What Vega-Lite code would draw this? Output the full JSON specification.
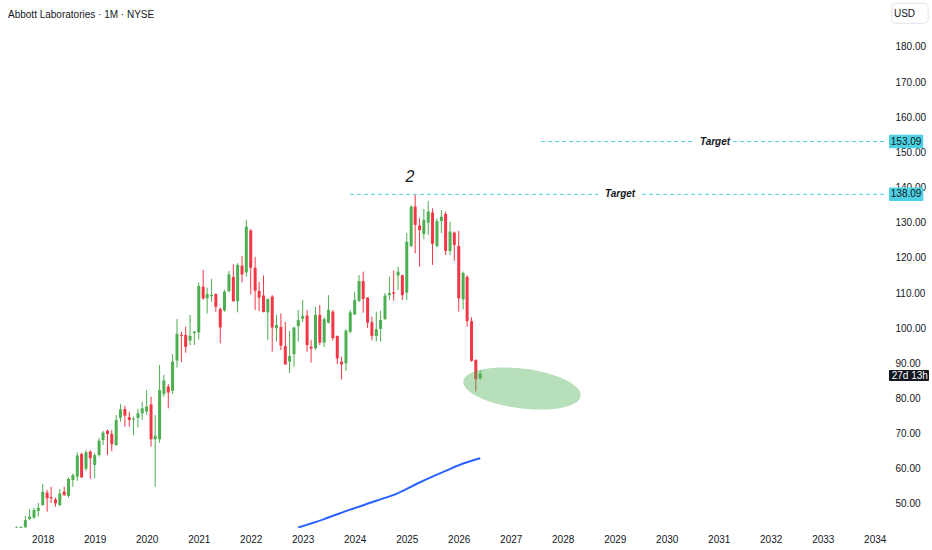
{
  "$schema": "https://vega.github.io/schema/vega-lite/v6.json",
  "width": 885,
  "height": 528,
  "padding": {"left": 0, "top": 0, "right": 0, "bottom": 0},
  "background": "white",
  "title": {"text": "Abbott Laboratories · 1M · NYSE", "anchor": "start", "frame": "group", "offset": -25, "baseline": "middle", "dx": 8, "fontSize": 10, "fontWeight": "normal", "color": "#131722", "font": "Liberation Sans, sans-serif"},
  "config": {
    "view": {"stroke": null},
    "font": "Liberation Sans, sans-serif",
    "axis": {"grid": false, "domain": false, "ticks": false, "tickSize": 0, "title": null, "labelColor": "#131722", "labelFontSize": 10, "labelFont": "Liberation Sans, sans-serif"}
  },
  "datasets": {
    "candles": [
      {"d": "2017-07-01", "o": 41.5, "h": 43.6, "l": 41.0, "c": 43.3},
      {"d": "2017-08-01", "o": 41.8, "h": 43.7, "l": 41.2, "c": 43.4},
      {"d": "2017-09-01", "o": 43.4, "h": 46.6, "l": 43.2, "c": 45.4},
      {"d": "2017-10-01", "o": 45.7, "h": 48.5, "l": 45.4, "c": 46.4},
      {"d": "2017-11-01", "o": 46.1, "h": 48.9, "l": 45.8, "c": 48.3},
      {"d": "2017-12-01", "o": 48.0, "h": 50.3, "l": 46.4, "c": 48.9},
      {"d": "2018-01-01", "o": 49.7, "h": 55.7, "l": 49.5, "c": 53.4},
      {"d": "2018-02-01", "o": 53.2, "h": 54.0, "l": 47.8, "c": 51.6},
      {"d": "2018-03-01", "o": 51.9, "h": 54.9, "l": 50.3, "c": 51.6},
      {"d": "2018-04-01", "o": 51.3, "h": 51.8, "l": 49.2, "c": 50.2},
      {"d": "2018-05-01", "o": 49.7, "h": 54.3, "l": 49.3, "c": 53.0},
      {"d": "2018-06-01", "o": 53.5, "h": 54.9, "l": 52.3, "c": 52.5},
      {"d": "2018-07-01", "o": 52.3, "h": 57.5, "l": 51.8, "c": 57.1},
      {"d": "2018-08-01", "o": 56.8, "h": 58.7, "l": 54.9, "c": 58.2},
      {"d": "2018-09-01", "o": 57.8, "h": 64.7, "l": 56.6, "c": 63.8},
      {"d": "2018-10-01", "o": 64.2, "h": 64.6, "l": 57.4, "c": 57.6},
      {"d": "2018-11-01", "o": 60.0, "h": 65.3, "l": 59.4, "c": 64.7},
      {"d": "2018-12-01", "o": 64.9, "h": 65.3, "l": 57.1, "c": 63.0},
      {"d": "2019-01-01", "o": 61.1, "h": 64.4, "l": 57.3, "c": 63.9},
      {"d": "2019-02-01", "o": 63.9, "h": 68.7, "l": 63.5, "c": 68.0},
      {"d": "2019-03-01", "o": 68.2, "h": 70.8, "l": 66.8, "c": 70.3},
      {"d": "2019-04-01", "o": 70.8, "h": 71.2, "l": 63.9, "c": 69.9},
      {"d": "2019-05-01", "o": 69.9, "h": 71.0, "l": 65.0, "c": 67.0},
      {"d": "2019-06-01", "o": 66.8, "h": 75.3, "l": 66.5, "c": 73.9},
      {"d": "2019-07-01", "o": 74.5, "h": 78.4, "l": 73.4, "c": 76.9},
      {"d": "2019-08-01", "o": 77.0, "h": 77.9, "l": 72.0, "c": 75.1},
      {"d": "2019-09-01", "o": 74.7, "h": 76.2, "l": 72.0, "c": 73.9},
      {"d": "2019-10-01", "o": 74.0, "h": 74.8, "l": 69.6, "c": 74.3},
      {"d": "2019-11-01", "o": 74.5, "h": 77.0, "l": 71.8, "c": 75.8},
      {"d": "2019-12-01", "o": 75.8, "h": 79.1, "l": 73.9, "c": 77.2},
      {"d": "2020-01-01", "o": 76.3, "h": 82.4, "l": 75.3, "c": 77.7},
      {"d": "2020-02-01", "o": 78.3, "h": 80.5, "l": 66.3, "c": 68.4},
      {"d": "2020-03-01", "o": 68.4, "h": 75.3, "l": 54.9, "c": 69.4},
      {"d": "2020-04-01", "o": 68.4, "h": 89.5, "l": 67.4, "c": 82.4},
      {"d": "2020-05-01", "o": 81.3, "h": 86.7, "l": 80.5, "c": 85.1},
      {"d": "2020-06-01", "o": 83.4, "h": 84.1, "l": 77.2, "c": 81.7},
      {"d": "2020-07-01", "o": 82.2, "h": 92.6, "l": 81.3, "c": 90.5},
      {"d": "2020-08-01", "o": 90.8, "h": 102.6, "l": 88.8, "c": 98.4},
      {"d": "2020-09-01", "o": 98.1, "h": 99.0, "l": 90.3, "c": 97.8},
      {"d": "2020-10-01", "o": 98.1, "h": 100.4, "l": 93.0, "c": 94.7},
      {"d": "2020-11-01", "o": 96.5, "h": 103.8, "l": 95.2, "c": 97.8},
      {"d": "2020-12-01", "o": 98.6, "h": 99.2, "l": 95.2, "c": 99.0},
      {"d": "2021-01-01", "o": 98.8, "h": 113.0, "l": 96.8, "c": 112.0},
      {"d": "2021-02-01", "o": 111.8, "h": 116.6, "l": 108.0, "c": 108.5},
      {"d": "2021-03-01", "o": 108.5, "h": 111.5, "l": 104.2, "c": 109.7},
      {"d": "2021-04-01", "o": 109.1, "h": 114.0, "l": 107.5, "c": 109.5},
      {"d": "2021-05-01", "o": 109.7, "h": 109.9, "l": 104.7, "c": 106.1},
      {"d": "2021-06-01", "o": 105.5, "h": 105.9, "l": 95.7, "c": 100.2},
      {"d": "2021-07-01", "o": 105.0, "h": 110.9, "l": 104.7, "c": 110.4},
      {"d": "2021-08-01", "o": 110.6, "h": 116.3, "l": 110.2, "c": 115.3},
      {"d": "2021-09-01", "o": 114.6, "h": 118.2, "l": 107.5, "c": 107.7},
      {"d": "2021-10-01", "o": 107.7, "h": 118.5, "l": 104.5, "c": 118.0},
      {"d": "2021-11-01", "o": 117.8, "h": 120.6, "l": 113.0, "c": 115.3},
      {"d": "2021-12-01", "o": 115.9, "h": 130.8, "l": 114.6, "c": 128.9},
      {"d": "2022-01-01", "o": 127.8, "h": 128.2, "l": 109.6, "c": 117.2},
      {"d": "2022-02-01", "o": 117.2, "h": 120.3, "l": 105.2, "c": 110.7},
      {"d": "2022-03-01", "o": 110.6, "h": 113.2, "l": 104.9, "c": 108.7},
      {"d": "2022-04-01", "o": 109.3, "h": 115.0, "l": 104.5, "c": 104.6},
      {"d": "2022-05-01", "o": 104.5, "h": 108.5, "l": 96.6, "c": 108.3},
      {"d": "2022-06-01", "o": 109.0, "h": 109.4, "l": 93.3, "c": 100.2},
      {"d": "2022-07-01", "o": 100.0, "h": 103.8, "l": 96.2, "c": 100.9},
      {"d": "2022-08-01", "o": 100.4, "h": 104.2, "l": 93.8, "c": 95.0},
      {"d": "2022-09-01", "o": 94.9, "h": 101.8, "l": 89.6, "c": 89.7},
      {"d": "2022-10-01", "o": 90.5, "h": 99.2, "l": 87.2, "c": 92.1},
      {"d": "2022-11-01", "o": 92.6, "h": 100.4, "l": 89.0, "c": 100.2},
      {"d": "2022-12-01", "o": 100.6, "h": 105.2, "l": 96.2, "c": 102.3},
      {"d": "2023-01-01", "o": 102.7, "h": 108.0, "l": 101.8, "c": 103.5},
      {"d": "2023-02-01", "o": 103.6, "h": 105.2, "l": 93.3, "c": 95.2},
      {"d": "2023-03-01", "o": 94.7, "h": 96.6, "l": 90.2, "c": 94.2},
      {"d": "2023-04-01", "o": 94.3, "h": 106.1, "l": 93.8, "c": 103.8},
      {"d": "2023-05-01", "o": 103.8, "h": 106.6, "l": 95.2, "c": 95.9},
      {"d": "2023-06-01", "o": 95.9, "h": 103.1, "l": 94.6, "c": 102.6},
      {"d": "2023-07-01", "o": 101.6, "h": 109.4, "l": 101.4, "c": 105.2},
      {"d": "2023-08-01", "o": 104.7, "h": 105.2, "l": 96.5, "c": 97.2},
      {"d": "2023-09-01", "o": 97.8, "h": 97.9, "l": 89.8, "c": 91.4},
      {"d": "2023-10-01", "o": 90.5, "h": 91.9, "l": 85.4, "c": 89.7},
      {"d": "2023-11-01", "o": 90.0, "h": 99.7, "l": 87.9, "c": 99.3},
      {"d": "2023-12-01", "o": 99.0, "h": 105.2, "l": 98.5, "c": 104.5},
      {"d": "2024-01-01", "o": 103.9, "h": 110.4, "l": 103.8, "c": 108.0},
      {"d": "2024-02-01", "o": 107.8, "h": 115.1, "l": 107.4, "c": 113.4},
      {"d": "2024-03-01", "o": 113.4, "h": 116.1, "l": 104.4, "c": 108.3},
      {"d": "2024-04-01", "o": 108.7, "h": 108.8, "l": 100.0, "c": 101.6},
      {"d": "2024-05-01", "o": 101.7, "h": 103.3, "l": 96.6, "c": 97.8},
      {"d": "2024-06-01", "o": 97.8, "h": 104.7, "l": 96.2, "c": 99.7},
      {"d": "2024-07-01", "o": 99.8, "h": 105.0, "l": 96.2, "c": 102.3},
      {"d": "2024-08-01", "o": 102.6, "h": 110.0, "l": 102.3, "c": 109.3},
      {"d": "2024-09-01", "o": 109.4, "h": 114.7, "l": 108.0, "c": 110.0},
      {"d": "2024-10-01", "o": 110.2, "h": 116.4, "l": 107.8, "c": 109.8},
      {"d": "2024-11-01", "o": 115.0, "h": 117.5, "l": 110.9, "c": 116.1},
      {"d": "2024-12-01", "o": 115.1, "h": 115.2, "l": 108.0, "c": 109.4},
      {"d": "2025-01-01", "o": 110.1, "h": 127.0, "l": 108.0, "c": 124.6},
      {"d": "2025-02-01", "o": 123.4, "h": 134.9, "l": 123.0, "c": 134.6},
      {"d": "2025-03-01", "o": 134.6, "h": 137.9, "l": 121.3, "c": 129.4},
      {"d": "2025-04-01", "o": 129.2, "h": 131.3, "l": 117.5, "c": 127.9},
      {"d": "2025-05-01", "o": 126.8, "h": 133.9, "l": 125.3, "c": 130.8},
      {"d": "2025-06-01", "o": 130.0, "h": 136.2, "l": 126.5, "c": 133.2},
      {"d": "2025-07-01", "o": 132.9, "h": 134.1, "l": 118.0, "c": 124.0},
      {"d": "2025-08-01", "o": 123.4, "h": 131.3, "l": 123.0, "c": 130.5},
      {"d": "2025-09-01", "o": 130.5, "h": 133.6, "l": 127.0, "c": 131.7},
      {"d": "2025-10-01", "o": 132.5, "h": 133.2, "l": 120.8, "c": 122.0},
      {"d": "2025-11-01", "o": 122.0, "h": 130.3, "l": 120.8, "c": 127.5},
      {"d": "2025-12-01", "o": 127.2, "h": 127.5, "l": 119.2, "c": 123.7},
      {"d": "2026-01-01", "o": 123.4, "h": 127.7, "l": 104.7, "c": 108.5},
      {"d": "2026-02-01", "o": 108.2, "h": 116.1, "l": 105.4, "c": 115.7},
      {"d": "2026-03-01", "o": 114.6, "h": 115.1, "l": 100.4, "c": 102.0},
      {"d": "2026-04-01", "o": 102.0, "h": 103.1, "l": 90.5, "c": 90.7},
      {"d": "2026-05-01", "o": 91.0, "h": 91.1, "l": 82.0, "c": 85.5},
      {"d": "2026-06-01", "o": 85.7, "h": 87.9, "l": 85.4, "c": 87.0}
    ],
    "ma": [
      {"d": "2022-12-01", "p": 43.3},
      {"d": "2023-06-01", "p": 45.7},
      {"d": "2023-12-01", "p": 48.4},
      {"d": "2024-06-01", "p": 50.9},
      {"d": "2024-11-01", "p": 53.1},
      {"d": "2025-04-01", "p": 56.1},
      {"d": "2025-10-01", "p": 59.4},
      {"d": "2026-02-01", "p": 61.5},
      {"d": "2026-06-01", "p": 63.0}
    ],
    "targets": [
      {"d": "2023-11-29", "d2": "2028-09-06", "p": 138.09},
      {"d": "2029-07-12", "d2": "2034-03-14", "p": 138.09},
      {"d": "2027-08-03", "d2": "2030-07-19", "p": 153.09},
      {"d": "2031-04-12", "d2": "2034-03-14", "p": 153.09}
    ],
    "tlabels": [
      {"d": "2029-02-07", "p": 138.09, "label": "Target"},
      {"d": "2030-12-06", "p": 153.09, "label": "Target"}
    ],
    "wave": [
      {"d": "2025-01-24", "p": 143.0, "label": "2"}
    ],
    "zone": [
      {"d": "2027-03-22", "p": 82.84}
    ],
    "ctags": [
      {"d": "2034-04-11", "d2": "2034-12-08", "p": 151.2, "p2": 155.0, "dc": "2034-08-09", "pc": 153.09, "label": "153.09"},
      {"d": "2034-04-11", "d2": "2034-12-08", "p": 136.2, "p2": 140.0, "dc": "2034-08-09", "pc": 138.09, "label": "138.09"}
    ],
    "btag": [
      {"d": "2034-04-11", "d2": "2035-01-17", "p": 84.98, "p2": 88.11, "dc": "2034-09-04", "pc": 86.54, "label": "27d 13h"}
    ],
    "usd": [
      {"d": "2034-04-30", "d2": "2035-01-11", "p": 186.74, "p2": 192.43, "dc": "2034-07-29", "pc": 189.5, "label": "USD"}
    ]
  },
  "layer": [
    {
      "data": {"name": "candles"},
      "mark": {"type": "rule", "clip": true, "strokeWidth": 1},
      "encoding": {
        "x": {"field": "d", "type": "temporal",
              "scale": {"type": "utc", "padding": 0, "domain": [{"year": 2017, "month": 3, "date": 7, "utc": true}, {"year": 2034, "month": 3, "date": 14, "utc": true}]},
              "axis": {"format": "%Y", "tickCount": {"interval": "year", "step": 1}, "labelPadding": 6, "labelFlush": false, "labelOverlap": false}},
        "y": {"field": "l", "type": "quantitative",
              "scale": {"domain": [43.16, 193.37], "zero": false, "nice": false, "padding": 0},
              "axis": {"orient": "right", "values": [50, 60, 70, 80, 90, 100, 110, 120, 130, 140, 150, 160, 170, 180], "format": ".2f", "labelPadding": 10, "labelAlign": "left"}},
        "y2": {"field": "h"},
        "color": {"condition": {"test": "datum.c >= datum.o", "value": "#4caf50"}, "value": "#f23645"}
      }
    },
    {
      "data": {"name": "candles"},
      "mark": {"type": "bar", "clip": true, "size": 3},
      "encoding": {
        "x": {"field": "d", "type": "temporal"},
        "y": {"field": "o", "type": "quantitative"},
        "y2": {"field": "c"},
        "color": {"condition": {"test": "datum.c >= datum.o", "value": "#4caf50"}, "value": "#f23645"}
      }
    },
    {
      "data": {"name": "ma"},
      "mark": {"type": "line", "clip": true, "color": "#2962ff", "strokeWidth": 2, "interpolate": "monotone"},
      "encoding": {
        "x": {"field": "d", "type": "temporal"},
        "y": {"field": "p", "type": "quantitative"}
      }
    },
    {
      "data": {"name": "targets"},
      "mark": {"type": "rule", "color": "#4dd0e1", "strokeWidth": 1, "strokeDash": [4, 3]},
      "encoding": {
        "x": {"field": "d", "type": "temporal"},
        "x2": {"field": "d2"},
        "y": {"field": "p", "type": "quantitative"}
      }
    },
    {
      "data": {"name": "tlabels"},
      "mark": {"type": "text", "fontSize": 10, "fontWeight": "bold", "fontStyle": "italic", "color": "#131722", "align": "center", "baseline": "middle"},
      "encoding": {
        "x": {"field": "d", "type": "temporal"},
        "y": {"field": "p", "type": "quantitative"},
        "text": {"field": "label"}
      }
    },
    {
      "data": {"name": "wave"},
      "mark": {"type": "text", "fontSize": 16, "fontStyle": "italic", "color": "#131722", "align": "center", "baseline": "middle"},
      "encoding": {
        "x": {"field": "d", "type": "temporal"},
        "y": {"field": "p", "type": "quantitative"},
        "text": {"field": "label"}
      }
    },
    {
      "data": {"name": "zone"},
      "mark": {"type": "point", "shape": "M 0.9921 0.1253 C 0.9688 0.3094 0.5058 0.4025 -0.0421 0.3333 C -0.59 0.2641 -1.0154 0.0588 -0.9921 -0.1253 C -0.9688 -0.3094 -0.5058 -0.4025 0.0421 -0.3333 C 0.59 -0.2641 1.0154 -0.0588 0.9921 0.1253 Z", "size": 13971, "filled": true, "color": "#4caf50", "fillOpacity": 0.4, "strokeWidth": 0, "opacity": 1},
      "encoding": {
        "x": {"field": "d", "type": "temporal"},
        "y": {"field": "p", "type": "quantitative"}
      }
    },
    {
      "data": {"name": "ctags"},
      "mark": {"type": "rect", "color": "#4dd0e1", "cornerRadius": 1},
      "encoding": {
        "x": {"field": "d", "type": "temporal"},
        "x2": {"field": "d2"},
        "y": {"field": "p", "type": "quantitative"},
        "y2": {"field": "p2"}
      }
    },
    {
      "data": {"name": "ctags"},
      "mark": {"type": "text", "fontSize": 10, "color": "#131722", "align": "center", "baseline": "middle"},
      "encoding": {
        "x": {"field": "dc", "type": "temporal"},
        "y": {"field": "pc", "type": "quantitative"},
        "text": {"field": "label"}
      }
    },
    {
      "data": {"name": "btag"},
      "mark": {"type": "rect", "color": "#131722", "cornerRadius": 1},
      "encoding": {
        "x": {"field": "d", "type": "temporal"},
        "x2": {"field": "d2"},
        "y": {"field": "p", "type": "quantitative"},
        "y2": {"field": "p2"}
      }
    },
    {
      "data": {"name": "btag"},
      "mark": {"type": "text", "fontSize": 10, "color": "white", "align": "center", "baseline": "middle"},
      "encoding": {
        "x": {"field": "dc", "type": "temporal"},
        "y": {"field": "pc", "type": "quantitative"},
        "text": {"field": "label"}
      }
    },
    {
      "data": {"name": "usd"},
      "mark": {"type": "rect", "fill": "white", "stroke": "#e0e3eb", "strokeWidth": 1, "cornerRadius": 4},
      "encoding": {
        "x": {"field": "d", "type": "temporal"},
        "x2": {"field": "d2"},
        "y": {"field": "p", "type": "quantitative"},
        "y2": {"field": "p2"}
      }
    },
    {
      "data": {"name": "usd"},
      "mark": {"type": "text", "fontSize": 10, "color": "#131722", "align": "center", "baseline": "middle"},
      "encoding": {
        "x": {"field": "dc", "type": "temporal"},
        "y": {"field": "pc", "type": "quantitative"},
        "text": {"field": "label"}
      }
    }
  ]
}
